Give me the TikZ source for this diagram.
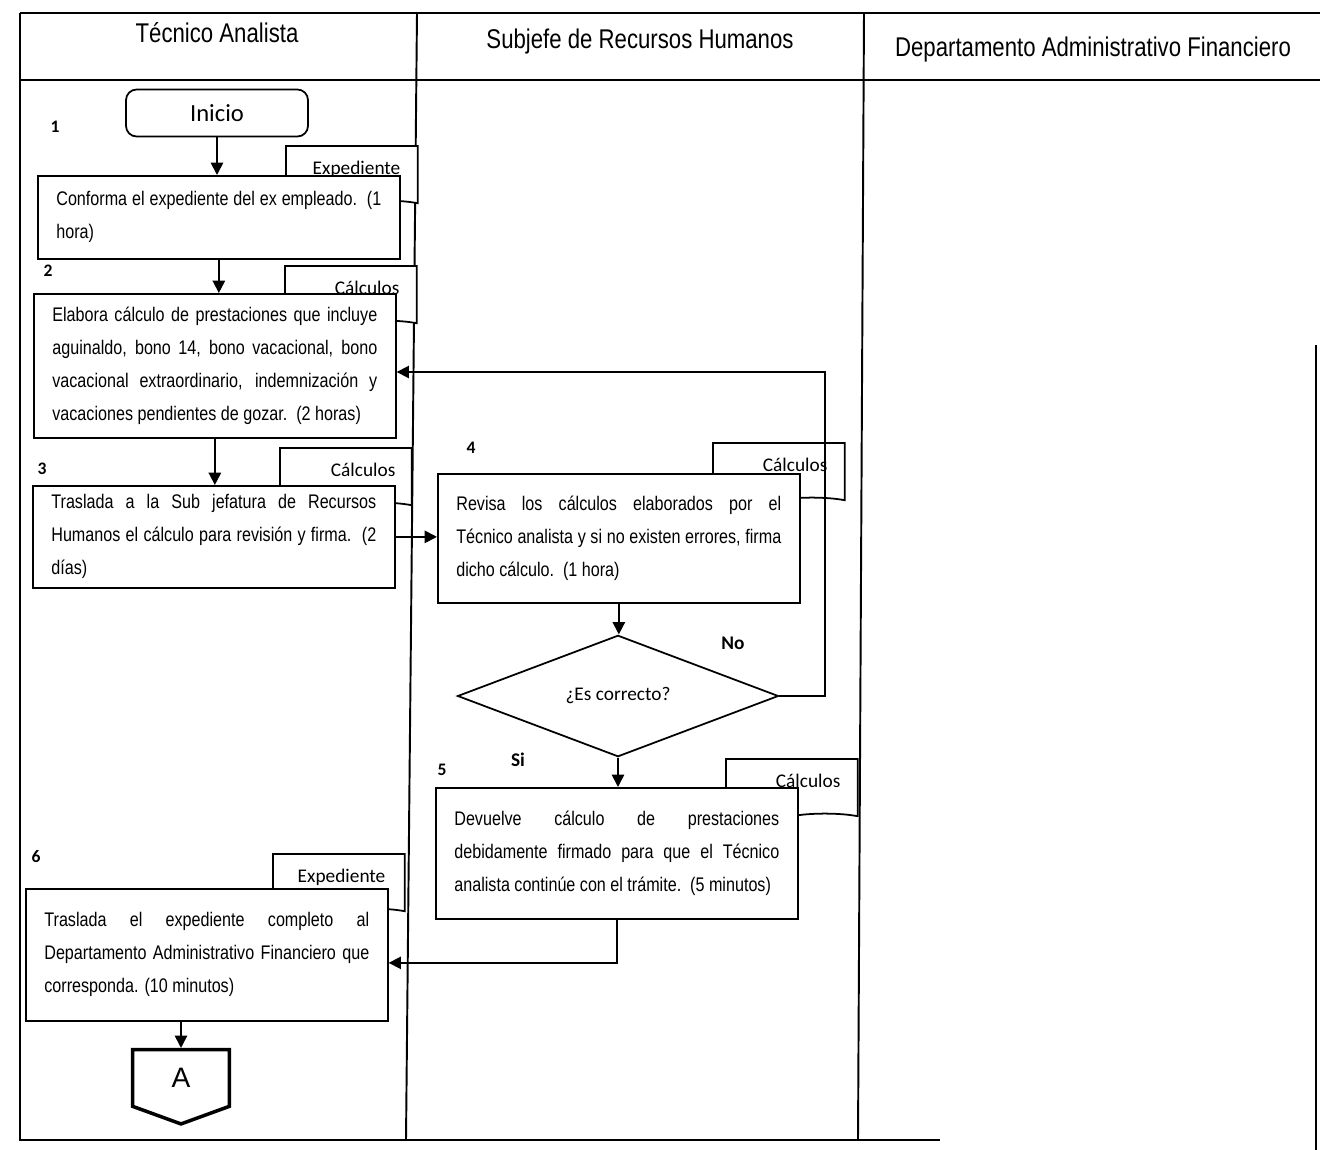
\documentclass[tikz,border=0pt]{standalone}
\usepackage{fontspec}
\setmainfont{Liberation Sans}[FakeStretch=0.82]
\newfontfamily\calibri{Carlito}
\newfontfamily\arialwide{Liberation Sans}
\usepackage{tikz}
\usetikzlibrary{shapes.geometric, shapes.symbols, arrows.meta, positioning}
\tikzstyle{arrow} = [line width=1pt,-{Triangle[length=7pt,width=7pt]}]
\tikzstyle{lane} = [line width=1.1pt]

\begin{document}
\begin{tikzpicture}[x=0.02cm, y=-0.02cm,
        % Define the styles for the flow shapes
        procbox/.style={draw, line width=1pt, fill=white, anchor=north west, text width=6.5cm, inner xsep=0.37cm, align=justify, font=\fontsize{11.2}{18.8}\selectfont},
        docbox/.style={tape, tape bend top=none, tape bend height=3pt, draw, line width=1pt, fill=white, anchor=north west, minimum width=2.64cm, minimum height=1.2cm, inner sep=0},
        doclbl/.style={font=\calibri\fontsize{11}{13}\selectfont, inner sep=0},
        numlbl/.style={font=\calibri\bfseries\fontsize{10}{12}\selectfont},
        startbox/.style={rectangle, rounded corners=6pt, draw, line width=1pt, minimum width=3.64cm, minimum height=0.94cm, font=\calibri\fontsize{14}{16}\selectfont},
        decision/.style={diamond, draw, line width=1pt, fill=white, minimum width=6.42cm, minimum height=2.3cm, inner sep=0, font=\calibri\fontsize{11}{13}\selectfont},
        offpage/.style={signal, signal to=south, signal from=nowhere, signal pointer angle=140, draw, line width=2pt, minimum width=1.94cm, minimum height=1.2cm, inner sep=0, font=\arialwide\fontsize{16}{18}\selectfont},
        lanehead/.style={font=\fontsize{15.4}{17}\selectfont}
    ]
        \useasboundingbox (0,0) rectangle (1320,1150);

        % --- Swimlane frame ---
        \draw[lane] (20,13) -- (1320,13);
        \draw[lane] (20,80) -- (1320,80);
        \draw[lane] (20,13) -- (20,1140) -- (940,1140);
        \draw[lane] (417,13) -- (406,1140);
        \draw[lane] (864,13) -- (858,1140);
        \draw[lane] (1316,345) -- (1316,1150);

        \node[lanehead] (head1) at (217,33) {Técnico Analista};
        \node[lanehead] (head2) at (640,42) {Subjefe de Recursos Humanos};
        \node[lanehead] (head3) at (1093,50) {Departamento Administrativo Financiero};

        % --- Documents behind the steps ---
        \node[docbox] (doc1) at (285,145) {};
        \node[docbox] (doc2) at (284,265) {};
        \node[docbox] (doc3) at (279,447) {};
        \node[docbox] (doc4) at (712,442) {};
        \node[docbox] (doc5) at (725,758) {};
        \node[docbox] (doc6) at (272,853) {};

        \node[doclbl, below left=0.32cm and 0.36cm of doc1.north east] (doc1lbl) {Expediente};
        \node[doclbl, below left=0.32cm and 0.36cm of doc2.north east] (doc2lbl) {Cálculos};
        \node[doclbl, below left=0.32cm and 0.34cm of doc3.north east] (doc3lbl) {Cálculos};
        \node[doclbl, below left=0.32cm and 0.36cm of doc4.north east] (doc4lbl) {Cálculos};
        \node[doclbl, below left=0.32cm and 0.36cm of doc5.north east] (doc5lbl) {Cálculos};
        \node[doclbl, below left=0.32cm and 0.4cm of doc6.north east] (doc6lbl) {Expediente};

        % --- Steps of the flow ---
        \node[startbox] (inicio) at (217,113) {Inicio};

        \node[procbox, minimum height=1.66cm] (step1) at (37,175)
            {Conforma el expediente del ex empleado.\ \ (1\linebreak hora)};
        \node[procbox, minimum height=2.88cm] (step2) at (33,293)
            {Elabora cálculo de prestaciones que incluye\linebreak aguinaldo, bono 14, bono vacacional, bono\linebreak vacacional extraordinario, indemnización y\linebreak vacaciones pendientes de gozar.\ \ (2 horas)};
        \node[procbox, minimum height=2.04cm] (step3) at (32,485)
            {Traslada a la Sub jefatura de Recursos\linebreak Humanos el cálculo para revisión y firma.\ \ (2\linebreak días)};
        \node[procbox, minimum height=2.58cm] (step4) at (437,473)
            {Revisa los cálculos elaborados por el\linebreak Técnico analista y si no existen errores, firma\linebreak dicho cálculo.\ \ (1 hora)};
        \node[decision] (check) at (618,696) {¿Es correcto?};
        \node[procbox, minimum height=2.62cm] (step5) at (435,787)
            {Devuelve cálculo de prestaciones\linebreak debidamente firmado para que el Técnico\linebreak analista continúe con el trámite.\ \ (5 minutos)};
        \node[procbox, minimum height=2.64cm] (step6) at (25,888)
            {Traslada el expediente completo al\linebreak Departamento Administrativo Financiero que\linebreak corresponda. (10 minutos)};
        \node[offpage] (conA) at (181,1078) {A};

        % --- Step numbers and answers ---
        \node[numlbl] (num1) at (55,127) {1};
        \node[numlbl] (num2) at (48,271) {2};
        \node[numlbl] (num3) at (42,469) {3};
        \node[numlbl] (num4) at (471,448) {4};
        \node[numlbl] (num5) at (442,770) {5};
        \node[numlbl] (num6) at (36,857) {6};
        \node[numlbl, font=\calibri\bfseries\fontsize{11}{13}\selectfont] (ansno) at (733,643) {No};
        \node[numlbl, font=\calibri\bfseries\fontsize{11}{13}\selectfont] (anssi) at (518,760) {Si};

        % --- Connectors ---
        \coordinate (noloop) at (825,372);
        \draw[arrow] (inicio.south) -- (inicio.south |- step1.north);
        \draw[arrow] (step1.south) -- (step1.south |- step2.north);
        \draw[arrow] (step2.south) -- (step2.south |- step3.north);
        \draw[arrow] (step3.east) -- (step3.east -| step4.west);
        \draw[arrow] (step4.south) -- (step4.south |- check.north);
        \draw[arrow] (check.east) -| (noloop) -- (noloop -| step2.east);
        \draw[arrow] (check.south) -- (check.south |- step5.north);
        \draw[arrow] (step5.south) |- ([yshift=-0.16cm]step6.east);
        \draw[arrow] (conA.north |- step6.south) -- (conA.north);

    \end{tikzpicture}
\end{document}
